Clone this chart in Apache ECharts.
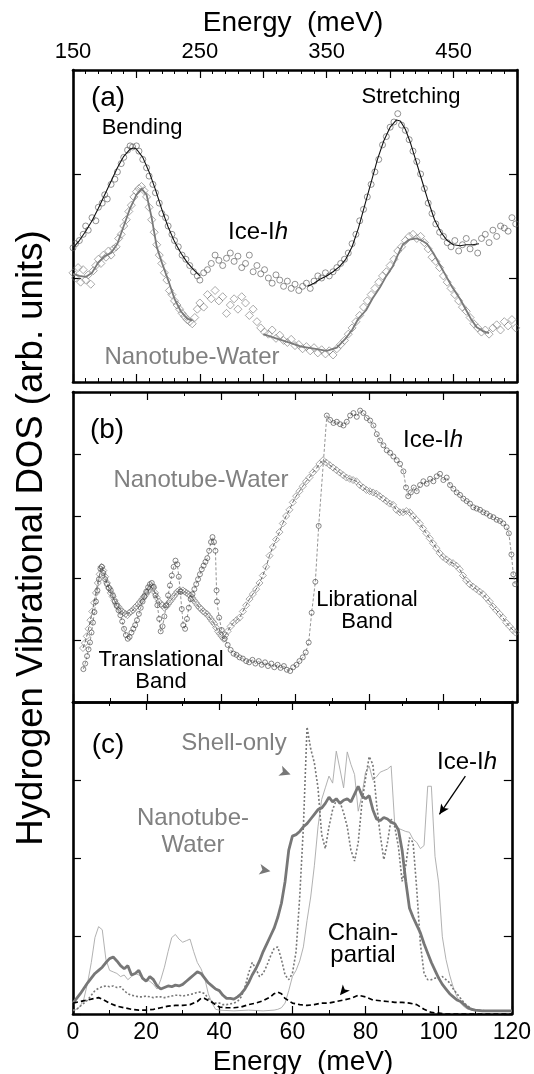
<!DOCTYPE html>
<html>
<head>
<meta charset="utf-8">
<script src="https://cdn.jsdelivr.net/npm/echarts@6/dist/echarts.min.js"></script>
<style>
  html, body { margin: 0; padding: 0; background: #fff; }
  #chart { width: 534px; height: 1074px; }
</style>
</head>
<body>
<div id="chart"></div>
<script>
// ---------- (a) high-energy region, 150–500 meV ----------
const iceA_points = [[150,1.29],[152,1.33],[155,1.36],[158,1.42],[160,1.50],[162,1.46],[165,1.58],[168,1.55],[170,1.68],[173,1.72],[175,1.80],[177,1.76],[180,1.90],[183,1.95],[185,2.02],[188,2.10],[190,2.16],[193,2.23],[195,2.27],[197,2.26],[200,2.27],[202,2.22],[205,2.14],[208,2.06],[210,1.98],[213,1.90],[215,1.82],[218,1.72],[220,1.62],[223,1.58],[225,1.50],[228,1.42],[230,1.36],[233,1.30],[236,1.22],[239,1.18],[242,1.12],[245,1.06],[248,1.02],[250,0.98],[253,1.05],[256,1.08],[259,1.14],[262,1.22],[265,1.17],[268,1.12],[271,1.19],[274,1.24],[277,1.16],[280,1.21],[283,1.10],[286,1.14],[289,1.22],[292,1.06],[295,1.12],[298,1.04],[301,1.08],[304,1.00],[307,0.95],[310,1.03],[313,0.98],[316,0.92],[319,0.97],[322,0.90],[325,0.94],[328,0.88],[331,0.92],[334,0.95],[337,0.90],[340,0.97],[343,1.02],[346,1.00],[349,1.05],[352,1.02],[355,1.06],[358,1.10],[361,1.14],[364,1.18],[367,1.24],[370,1.33],[373,1.42],[376,1.55],[379,1.66],[382,1.78],[385,1.90],[388,2.02],[391,2.14],[394,2.28],[397,2.36],[400,2.45],[403,2.50],[406,2.58],[409,2.47],[412,2.42],[415,2.33],[418,2.22],[421,2.12],[424,2.00],[427,1.86],[430,1.72],[433,1.62],[436,1.52],[439,1.44],[442,1.40],[445,1.34],[448,1.30],[451,1.36],[454,1.26],[457,1.32],[460,1.38],[463,1.28],[466,1.34],[469,1.24],[472,1.38],[475,1.42],[478,1.34],[481,1.46],[484,1.40],[487,1.50],[490,1.48],[493,1.45],[496,1.58],[499,1.52]];
const iceA_fit = [[150,1.29],[155,1.36],[160,1.45],[165,1.55],[170,1.67],[175,1.80],[180,1.93],[185,2.06],[190,2.17],[195,2.24],[198,2.25],[200,2.24],[205,2.16],[210,2.02],[215,1.85],[220,1.66],[225,1.49],[230,1.35],[235,1.24],[240,1.15],[245,1.08],[250,1.02],[292,null],[335,0.92],[340,0.95],[345,0.99],[350,1.02],[355,1.06],[360,1.11],[365,1.18],[370,1.30],[375,1.48],[380,1.70],[385,1.92],[390,2.14],[395,2.32],[400,2.45],[405,2.52],[408,2.51],[412,2.43],[416,2.30],[420,2.14],[425,1.94],[430,1.74],[435,1.56],[440,1.44],[445,1.36],[450,1.32],[455,1.31],[460,1.32],[465,1.32],[470,1.33]];
const nanoA_points = [[150,1.05],[152,1.00],[154,1.10],[156,0.96],[158,1.08],[160,0.98],[162,1.03],[164,0.94],[166,1.07],[168,1.12],[170,1.18],[172,1.14],[174,1.22],[176,1.20],[178,1.26],[180,1.22],[182,1.28],[184,1.30],[186,1.38],[188,1.42],[190,1.50],[192,1.56],[194,1.64],[196,1.70],[198,1.78],[200,1.83],[202,1.86],[204,1.88],[206,1.84],[208,1.78],[210,1.68],[212,1.56],[214,1.44],[216,1.32],[218,1.22],[220,1.14],[222,1.05],[224,0.98],[226,0.88],[228,0.84],[230,0.78],[232,0.74],[234,0.70],[236,0.66],[238,0.63],[240,0.60],[242,0.58],[244,0.56],[246,0.62],[248,0.70],[250,0.76],[253,0.72],[256,0.84],[259,0.80],[262,0.88],[265,0.78],[268,0.82],[271,0.66],[274,0.74],[277,0.80],[280,0.70],[283,0.82],[286,0.76],[289,0.64],[292,0.70],[295,0.58],[298,0.52],[301,0.48],[304,0.46],[307,0.50],[310,0.42],[313,0.45],[316,0.40],[319,0.38],[322,0.41],[325,0.35],[328,0.36],[331,0.32],[334,0.34],[337,0.30],[340,0.33],[343,0.28],[346,0.31],[349,0.27],[352,0.30],[355,0.26],[358,0.32],[361,0.36],[364,0.40],[367,0.46],[370,0.52],[373,0.58],[376,0.64],[379,0.72],[382,0.78],[385,0.84],[388,0.90],[391,0.96],[394,1.02],[397,1.06],[400,1.12],[403,1.18],[406,1.26],[409,1.30],[412,1.36],[415,1.40],[418,1.42],[421,1.38],[424,1.40],[427,1.34],[430,1.28],[433,1.20],[436,1.16],[439,1.10],[442,1.02],[445,0.96],[448,0.90],[451,0.84],[454,0.78],[457,0.72],[460,0.68],[463,0.62],[466,0.56],[469,0.52],[472,0.48],[475,0.50],[478,0.46],[481,0.52],[484,0.55],[487,0.50],[490,0.58],[493,0.54],[496,0.60],[499,0.52]];
const nanoA_fit = [[150,1.04],[155,1.02],[160,1.01],[165,1.05],[170,1.15],[175,1.21],[180,1.24],[185,1.33],[190,1.50],[195,1.67],[200,1.80],[204,1.86],[208,1.80],[212,1.58],[216,1.30],[220,1.15],[225,0.98],[230,0.80],[235,0.68],[240,0.61],[244,0.59],[270,null],[300,0.46],[310,0.42],[320,0.38],[330,0.34],[340,0.32],[350,0.30],[358,0.33],[365,0.42],[370,0.50],[375,0.61],[381,0.69],[386,0.80],[392,0.91],[397,1.02],[402,1.11],[406,1.22],[410,1.32],[415,1.37],[421,1.38],[425,1.36],[429,1.33],[434,1.24],[439,1.13],[444,1.02],[449,0.91],[455,0.80],[460,0.69],[464,0.60],[468,0.53],[473,0.49],[478,0.47]];
const topTickLabels = [150, 250, 350, 450];

// ---------- (b) translational + librational bands, 0–120 meV ----------
const iceB = [[2.8,0.53],[3.3,0.62],[3.8,0.74],[4.2,0.85],[4.6,0.96],[5.0,1.12],[5.4,1.28],[5.8,1.45],[6.2,1.62],[6.6,1.80],[7.0,1.98],[7.4,2.15],[7.8,2.18],[8.2,2.08],[8.7,1.98],[9.2,1.90],[9.7,1.84],[10.2,1.80],[10.8,1.72],[11.3,1.62],[11.8,1.55],[12.3,1.48],[12.8,1.40],[13.3,1.30],[13.8,1.18],[14.3,1.08],[14.8,1.02],[15.3,1.05],[15.8,1.12],[16.3,1.18],[16.8,1.24],[17.3,1.32],[17.8,1.42],[18.3,1.52],[18.8,1.62],[19.3,1.70],[19.8,1.78],[20.3,1.85],[20.8,1.90],[21.3,1.92],[21.8,1.86],[22.3,1.72],[22.8,1.56],[23.3,1.34],[23.7,1.14],[24.2,1.22],[24.7,1.38],[25.2,1.56],[25.7,1.72],[26.2,1.88],[26.7,2.04],[27.2,2.18],[27.7,2.28],[28.2,2.22],[28.6,2.02],[29.0,1.78],[29.4,1.50],[29.8,1.24],[30.3,1.18],[30.8,1.34],[31.3,1.52],[31.8,1.66],[32.3,1.74],[32.8,1.82],[33.3,1.90],[33.8,1.98],[34.3,2.06],[34.8,2.14],[35.3,2.20],[35.8,2.26],[36.3,2.32],[36.8,2.44],[37.3,2.58],[37.7,2.66],[38.1,2.58],[38.5,2.44],[38.8,1.80],[38.9,1.62],[39.5,1.36],[40.2,1.16],[41.0,1.02],[41.8,0.92],[42.6,0.84],[43.4,0.78],[44.2,0.76],[45.0,0.72],[45.9,0.70],[46.8,0.66],[47.6,0.64],[48.5,0.68],[49.3,0.62],[50.2,0.66],[51.0,0.60],[51.9,0.64],[52.7,0.58],[53.6,0.62],[54.4,0.56],[55.3,0.60],[56.1,0.55],[57.0,0.58],[57.8,0.52],[58.7,0.50],[59.5,0.56],[60.4,0.60],[61.2,0.66],[62.1,0.72],[62.9,0.80],[63.7,0.96],[64.5,1.44],[65.5,1.94],[66.4,2.84],[68.6,4.62],[69.5,4.55],[70.4,4.50],[71.3,4.52],[72.2,4.48],[73.1,4.46],[74.0,4.52],[74.9,4.62],[75.8,4.66],[76.7,4.60],[77.6,4.70],[78.5,4.66],[79.4,4.58],[80.3,4.54],[81.2,4.46],[82.1,4.32],[83.0,4.22],[83.9,4.14],[84.8,4.06],[85.7,4.02],[86.6,3.96],[87.5,3.90],[88.4,3.84],[89.3,3.72],[90.0,3.46],[90.6,3.32],[91.3,3.38],[92.1,3.46],[92.9,3.40],[93.8,3.50],[94.7,3.56],[95.6,3.52],[96.5,3.60],[97.4,3.56],[98.3,3.64],[99.2,3.68],[100.1,3.58],[101.0,3.62],[101.9,3.50],[102.8,3.44],[103.7,3.38],[104.6,3.34],[105.5,3.28],[106.4,3.24],[107.3,3.20],[108.2,3.14],[109.1,3.12],[110.0,3.10],[110.9,3.06],[111.8,3.04],[112.7,3.00],[113.6,2.98],[114.5,2.94],[115.4,2.92],[116.3,2.88],[117.2,2.82],[117.8,2.72],[118.5,2.38],[119.0,2.06],[119.5,1.90]];
const nanoB = [[2.7,0.87],[3.2,0.95],[3.7,1.06],[4.2,1.18],[4.7,1.32],[5.2,1.46],[5.7,1.60],[6.2,1.76],[6.7,1.92],[7.2,2.06],[7.7,2.18],[8.2,2.12],[8.7,2.02],[9.2,1.92],[9.7,1.84],[10.2,1.76],[10.7,1.70],[11.2,1.64],[11.7,1.58],[12.2,1.54],[12.7,1.50],[13.2,1.46],[13.7,1.44],[14.2,1.42],[14.7,1.40],[15.2,1.44],[15.7,1.46],[16.2,1.48],[16.7,1.52],[17.2,1.55],[17.7,1.58],[18.2,1.62],[18.7,1.66],[19.2,1.70],[19.7,1.74],[20.2,1.78],[20.7,1.82],[21.2,1.86],[21.7,1.84],[22.2,1.76],[22.7,1.68],[23.2,1.62],[23.7,1.58],[24.2,1.56],[24.7,1.52],[25.2,1.54],[25.7,1.58],[26.2,1.62],[26.7,1.66],[27.2,1.70],[27.7,1.74],[28.2,1.78],[28.7,1.80],[29.2,1.78],[29.7,1.80],[30.2,1.78],[30.7,1.76],[31.2,1.74],[31.7,1.72],[32.2,1.68],[32.7,1.64],[33.2,1.60],[33.7,1.56],[34.2,1.52],[34.7,1.50],[35.2,1.46],[35.7,1.44],[36.2,1.42],[36.7,1.38],[37.2,1.34],[37.7,1.30],[38.2,1.26],[38.7,1.20],[39.2,1.14],[39.7,1.10],[40.2,1.06],[40.7,1.02],[41.2,1.08],[41.8,1.14],[42.6,1.22],[43.4,1.28],[44.2,1.32],[45.0,1.36],[45.9,1.46],[46.8,1.56],[47.7,1.66],[48.6,1.74],[49.5,1.82],[50.4,1.92],[51.3,2.04],[52.2,2.18],[53.1,2.36],[54.0,2.50],[54.9,2.62],[55.8,2.74],[56.7,2.88],[57.6,3.00],[58.5,3.10],[59.4,3.22],[60.3,3.32],[61.2,3.40],[62.1,3.48],[63.0,3.56],[63.9,3.62],[64.8,3.70],[65.7,3.76],[66.6,3.84],[67.6,3.90],[68.5,3.86],[69.4,3.82],[70.3,3.78],[71.2,3.74],[72.1,3.70],[73.0,3.66],[73.9,3.62],[74.8,3.60],[75.7,3.58],[76.6,3.56],[77.5,3.50],[78.4,3.46],[79.3,3.42],[80.2,3.40],[81.1,3.38],[82.0,3.36],[82.9,3.32],[83.8,3.28],[84.7,3.24],[85.6,3.20],[86.5,3.18],[87.4,3.10],[88.3,3.06],[89.2,3.06],[90.1,3.08],[91.0,3.06],[91.9,3.00],[92.8,2.94],[93.7,2.88],[94.6,2.80],[95.5,2.72],[96.4,2.64],[97.3,2.56],[98.2,2.48],[99.1,2.40],[100.0,2.34],[100.9,2.30],[101.8,2.26],[102.7,2.24],[103.6,2.20],[104.5,2.14],[105.4,2.04],[106.3,1.96],[107.2,1.90],[108.1,1.86],[109.0,1.82],[109.9,1.78],[110.8,1.74],[111.7,1.68],[112.6,1.62],[113.5,1.54],[114.4,1.48],[115.3,1.42],[116.2,1.36],[117.1,1.28],[118.0,1.22],[118.9,1.16],[119.6,1.12]];

// ---------- (c) simulated partial spectra, 0–120 meV ----------
const nanoC = [[0,0.14],[1,0.20],[2,0.26],[3,0.33],[4,0.40],[5,0.46],[6,0.52],[7,0.56],[8,0.60],[9,0.66],[10,0.71],[11,0.73],[12,0.68],[13,0.62],[14,0.58],[15,0.62],[16,0.50],[17,0.52],[18,0.56],[19,0.46],[20,0.42],[21,0.48],[22,0.44],[23,0.36],[24,0.32],[25,0.34],[26,0.36],[27,0.35],[28,0.37],[29,0.36],[30,0.38],[31,0.42],[32,0.46],[33,0.50],[34,0.54],[35,0.52],[36,0.46],[37,0.40],[38,0.36],[39,0.32],[40,0.30],[41,0.24],[42,0.20],[43,0.20],[44,0.19],[45,0.22],[46,0.26],[47,0.32],[48,0.40],[49,0.50],[50,0.58],[51,0.68],[52,0.80],[53,0.90],[54,1.00],[55,1.10],[56,1.24],[57,1.42],[58,1.70],[59,2.10],[60,2.28],[61,2.30],[62,2.34],[63,2.40],[64,2.44],[65,2.50],[66,2.56],[67,2.62],[68,2.64],[69,2.70],[70,2.78],[71,2.72],[72,2.76],[73,2.70],[74,2.74],[75,2.76],[76,2.72],[77,2.82],[78,2.92],[79,2.80],[80,2.76],[81,2.80],[82,2.62],[83,2.50],[84,2.48],[85,2.52],[86,2.50],[87,2.46],[88,2.44],[89,2.36],[90,2.10],[91,1.70],[92,1.36],[93,1.24],[94,1.14],[95,1.04],[96,0.90],[97,0.78],[98,0.66],[99,0.56],[100,0.46],[101,0.38],[102,0.32],[103,0.26],[104,0.22],[105,0.18],[106,0.16],[107,0.12],[108,0.08],[109,0.06],[110,0.05],[112,0.04],[115,0.04],[118,0.04],[120,0.04]];
const shellC = [[0,0.05],[1,0.06],[2,0.10],[3,0.14],[4,0.18],[5,0.24],[6,0.30],[7,0.33],[8,0.35],[9,0.36],[10,0.35],[11,0.36],[12,0.34],[13,0.35],[14,0.30],[15,0.26],[16,0.24],[17,0.23],[18,0.22],[19,0.22],[20,0.23],[21,0.22],[22,0.21],[23,0.22],[24,0.22],[25,0.21],[26,0.22],[27,0.23],[28,0.24],[29,0.24],[30,0.23],[31,0.24],[32,0.25],[33,0.26],[34,0.28],[35,0.28],[36,0.26],[37,0.20],[38,0.16],[39,0.14],[40,0.14],[41,0.12],[42,0.12],[43,0.13],[44,0.14],[45,0.16],[46,0.22],[47,0.34],[48,0.52],[49,0.66],[50,0.58],[51,0.48],[52,0.52],[53,0.62],[54,0.74],[55,0.84],[56,0.86],[57,0.70],[58,0.50],[59,0.44],[60,0.52],[61,0.80],[62,1.50],[63,2.40],[64,3.68],[65,3.40],[66,3.22],[67,2.90],[68,2.30],[69,2.12],[70,2.40],[71,2.62],[72,2.74],[73,2.72],[74,2.58],[75,2.40],[76,2.10],[77,1.96],[78,2.20],[79,2.70],[80,3.02],[81,3.30],[82,3.20],[83,2.70],[84,2.30],[85,1.98],[86,2.20],[87,2.50],[88,2.40],[89,2.14],[90,1.70],[91,1.90],[92,2.26],[93,2.20],[94,1.60],[95,0.90],[96,0.52],[97,0.44],[98,0.44],[99,0.46],[100,0.46],[101,0.48],[102,0.44],[103,0.40],[104,0.32],[105,0.26],[106,0.20],[107,0.14],[108,0.10],[109,0.07],[110,0.05],[113,0.04],[116,0.04],[120,0.04]];
const iceC = [[0,0.04],[1,0.06],[2,0.10],[3,0.20],[4,0.40],[5,0.66],[6,0.98],[7,1.12],[8,1.08],[9,0.70],[10,0.56],[11,0.54],[12,0.52],[13,0.48],[14,0.50],[15,0.44],[16,0.48],[17,0.52],[18,0.50],[19,0.46],[20,0.44],[21,0.42],[22,0.38],[23,0.32],[24,0.44],[25,0.60],[26,0.80],[27,0.98],[28,1.02],[29,0.96],[30,0.92],[31,0.94],[32,0.96],[33,0.80],[34,0.66],[35,0.58],[36,0.46],[37,0.26],[38,0.14],[39,0.06],[40,0.05],[44,0.04],[48,0.05],[52,0.04],[55,0.05],[56,0.06],[57,0.08],[58,0.14],[59,0.30],[60,0.48],[61,0.56],[62,0.68],[63,0.86],[64,1.20],[65,1.50],[66,1.90],[67,2.40],[68,2.75],[69,2.90],[70,3.05],[71,2.96],[72,3.37],[73,3.14],[74,2.90],[75,3.36],[76,3.20],[77,3.07],[78,2.60],[79,2.80],[80,3.10],[81,3.18],[82,3.00],[83,3.04],[84,3.10],[85,3.12],[86,3.14],[87,3.18],[88,2.42],[89,2.38],[90,2.36],[91,2.34],[92,2.33],[93,2.24],[94,2.20],[95,2.12],[96,2.16],[97,2.92],[98,2.92],[99,2.02],[100,1.68],[101,0.99],[102,0.70],[103,0.50],[104,0.34],[105,0.22],[106,0.14],[107,0.09],[108,0.06],[110,0.04],[115,0.04],[120,0.04]];
const chainC = [[0,0.14],[2,0.16],[4,0.18],[6,0.20],[7,0.21],[8,0.19],[10,0.14],[12,0.10],[14,0.08],[16,0.06],[18,0.05],[20,0.05],[22,0.06],[24,0.08],[26,0.10],[28,0.11],[30,0.11],[32,0.12],[34,0.16],[35,0.20],[36,0.20],[38,0.15],[40,0.09],[42,0.08],[44,0.08],[46,0.09],[48,0.12],[50,0.14],[52,0.17],[54,0.22],[55,0.26],[56,0.28],[57,0.26],[58,0.20],[60,0.14],[62,0.12],[64,0.11],[66,0.12],[68,0.14],[70,0.14],[72,0.16],[74,0.18],[76,0.20],[78,0.24],[80,0.22],[82,0.18],[84,0.17],[86,0.16],[88,0.15],[90,0.15],[92,0.14],[94,0.12],[96,0.06],[98,0.02],[100,0.01],[102,0],[110,0],[120,0]];
const bottomTickLabels = [0, 20, 40, 60, 80, 100, 120];

const FONT = '"Liberation Sans", Arial, Helvetica, sans-serif';
const GRAY = '#808080';

function frameX(gridIndex, position, min, max, interval, minorSplit, labels, size) {
  return {
    type: 'value', gridIndex, position, min, max, interval,
    axisLine: { show: true, onZero: false, lineStyle: { color: '#000', width: 2.6 } },
    axisTick: { show: true, inside: true, length: 8, lineStyle: { color: '#000', width: 1.2 } },
    minorTick: { show: true, splitNumber: minorSplit, length: 4, lineStyle: { color: '#000', width: 1 } },
    splitLine: { show: false }, minorSplitLine: { show: false },
    axisLabel: labels ? {
      show: true, color: '#000', fontSize: size, fontFamily: FONT, margin: 7,
      formatter: v => (labels.indexOf(v) >= 0 ? String(v) : '')
    } : { show: false }
  };
}
function frameY(gridIndex, position, max) {
  return {
    type: 'value', gridIndex, position, min: 0, max, interval: 1,
    axisLine: { show: true, onZero: false, lineStyle: { color: '#000', width: 2.6 } },
    axisTick: { show: true, inside: true, length: 8, lineStyle: { color: '#000', width: 1.2 } },
    splitLine: { show: false }, axisLabel: { show: false }
  };
}

function pts(name, data, xi, yi, symbol, size, color, z) {
  return {
    name, type: 'scatter', data, xAxisIndex: xi, yAxisIndex: yi, symbol, symbolSize: size, z,
    itemStyle: { color: 'rgba(0,0,0,0)', borderColor: color, borderWidth: 0.8 }, silent: true
  };
}
function curve(name, data, xi, yi, color, width, type, z, extra) {
  return Object.assign({
    name, type: 'line', data, xAxisIndex: xi, yAxisIndex: yi, showSymbol: false, symbol: 'none',
    connectNulls: false, z, silent: true,
    lineStyle: { color, width, type }
  }, extra || {});
}

const chart = echarts.init(document.getElementById('chart'), null, { renderer: 'canvas' });

function txt(x, y, text, size, color, extra) {
  return Object.assign({
    type: 'text', x, y, silent: true, z: 50,
    style: { text, fill: color || '#000', font: size + 'px ' + FONT, align: 'center', verticalAlign: 'middle' }
  }, extra || {});
}
function iceLabel(x, y) {
  return {
    type: 'text', x, y, silent: true, z: 50,
    style: {
      text: '{n|Ice-I}{i|h}', align: 'center', verticalAlign: 'middle',
      rich: {
        n: { fontSize: 24, fontFamily: FONT, fill: '#000', color: '#000' },
        i: { fontSize: 24, fontFamily: FONT, fontStyle: 'italic', fill: '#000', color: '#000' }
      }
    }
  };
}

chart.setOption({
  animation: false,
  backgroundColor: '#fff',
  grid: [
    { left: 73, right: 17, top: 70, height: 312 },
    { left: 73, right: 17, top: 392, height: 310 },
    { left: 73, right: 17, top: 702, height: 312 }
  ],
  xAxis: [
    frameX(0, 'top', 150, 500, 50, 5, topTickLabels, 22),
    frameX(0, 'bottom', 150, 500, 50, 5, null),
    frameX(1, 'bottom', 0, 120, 20, 2, null),
    frameX(1, 'top', 0, 120, 20, 2, null),
    frameX(2, 'bottom', 0, 120, 20, 2, bottomTickLabels, 23),
    frameX(2, 'top', 0, 120, 20, 2, null)
  ],
  yAxis: [
    frameY(0, 'left', 3), frameY(0, 'right', 3),
    frameY(1, 'left', 5), frameY(1, 'right', 5),
    frameY(2, 'left', 4), frameY(2, 'right', 4)
  ],
  series: [
    // (a)
    pts('Nanotube-Water (a)', nanoA_points, 0, 0, 'diamond', 8, '#777', 2),
    pts('Ice-Ih (a)', iceA_points, 0, 0, 'circle', 6, '#555', 3),
    curve('Nanotube-Water fit', nanoA_fit, 0, 0, '#7a7a7a', 1.8, 'solid', 4),
    curve('Ice-Ih fit', iceA_fit, 0, 0, '#111', 1.1, 'solid', 5),
    // (b)
    curve('Nanotube-Water (b) line', nanoB, 2, 2, '#555', 0.9, [4, 2], 2),
    curve('Ice-Ih (b) line', iceB, 2, 2, '#777', 0.8, [3, 2], 2),
    pts('Nanotube-Water (b)', nanoB, 2, 2, 'diamond', 7, '#777', 3),
    pts('Ice-Ih (b)', iceB, 2, 2, 'circle', 5, '#444', 4),
    // (c)
    curve('Ice-Ih (c)', iceC, 4, 4, '#a8a8a8', 0.9, 'solid', 2, {
      markLine: {
        silent: true, symbol: ['none', 'arrow'], symbolSize: [7, 10],
        label: { show: false },
        lineStyle: { color: '#000', width: 1.3, type: 'solid' },
        data: [[{ coord: [107.3, 3.05] }, { coord: [100.2, 2.56] }]]
      }
    }),
    curve('Shell-only', shellC, 4, 4, '#777', 1.6, [2, 2], 3, {
      markPoint: {
        silent: true, symbol: 'arrow', symbolSize: [8, 11], label: { show: false },
        itemStyle: { color: '#777' },
        data: [
          { coord: [59.5, 3.07], symbolRotate: -110 },
          { coord: [54.0, 1.83], symbolRotate: -100 }
        ]
      }
    }),
    curve('Nanotube-Water (c)', nanoC, 4, 4, '#777', 2.8, 'solid', 4),
    curve('Chain-partial', chainC, 4, 4, '#000', 1.7, [5, 3], 5, {
      markPoint: {
        silent: true, symbol: 'arrow', symbolSize: [7, 10], label: { show: false },
        itemStyle: { color: '#000' },
        data: [{ coord: [73.0, 0.24], symbolRotate: 140 }]
      }
    })
  ],
  graphic: [
    txt(293, 23, 'Energy  (meV)', 28),
    txt(303, 1062, 'Energy  (meV)', 28),
    txt(32, 538, 'Hydrogen Vibrational DOS (arb. units)', 36.6, '#000', { rotation: Math.PI / 2 }),
    // (a)
    txt(108, 98, '(a)', 28),
    txt(142, 128, 'Bending', 22),
    txt(411, 97, 'Stretching', 22),
    iceLabel(258, 232),
    txt(192, 357, 'Nanotube-Water', 24, GRAY),
    // (b)
    txt(107, 430, '(b)', 28),
    iceLabel(433, 440),
    txt(201, 480, 'Nanotube-Water', 24, GRAY),
    txt(367, 600, 'Librational', 22),
    txt(367, 622, 'Band', 22),
    txt(161, 660, 'Translational', 22),
    txt(161, 682, 'Band', 22),
    // (c)
    txt(108, 745, '(c)', 28),
    txt(234, 743, 'Shell-only', 24, GRAY),
    iceLabel(467, 762),
    txt(193, 818, 'Nanotube-', 24, GRAY),
    txt(193, 845, 'Water', 24, GRAY),
    txt(363, 933, 'Chain-', 24),
    txt(363, 955, 'partial', 24)
  ]
});
</script>
</body>
</html>
